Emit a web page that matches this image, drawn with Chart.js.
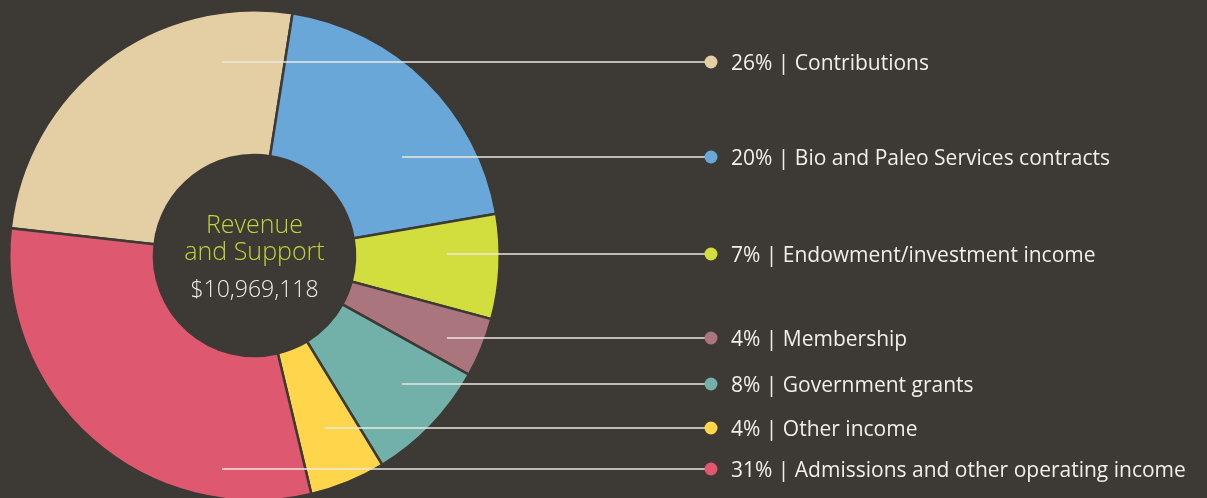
<!DOCTYPE html>
<html>
<head>
<meta charset="utf-8">
<script src="https://cdn.jsdelivr.net/npm/chart.js@4.4.1/dist/chart.umd.min.js"></script>
<style>
  html, body { margin: 0; padding: 0; background: #3d3935; overflow: hidden; width: 1207px; height: 498px; }
  #wrap { position: absolute; left: 0; top: 0; width: 1207px; height: 510px; }
</style>
</head>
<body>
<div id="wrap"><canvas id="c" width="1207" height="510"></canvas></div>
<script>
// ---- data ----
const categories = ["Contributions", "Bio and Paleo Services contracts", "Endowment/investment income", "Membership", "Government grants", "Other income", "Admissions and other operating income"];
const percentLabels = [26, 20, 7, 4, 8, 4, 31];          // printed percentages
const sliceShares = [25.7, 19.8, 6.9, 3.9, 8.2, 5.0, 30.5]; // slice sizes as drawn
const sliceColors = ["#e3cfa3", "#68a7d7", "#d2de3e", "#ab757d", "#72b1a9", "#fed54b", "#de5870"];
const centerTitle = ["Revenue", "and Support"];
const centerTotal = "$10,969,118";

// ---- layout (positions / styles) ----
const BG = "#3d3935";
const leaderY = [62, 157, 254, 338, 384, 428, 469];
const leaderStartX = [222, 402, 447, 447, 402, 325, 222];
const dotX = 711, textX = 731;

const labelPlugin = {
  id: 'labelPlugin',
  afterDraw(chart) {
    const ctx = chart.ctx;
    const meta = chart.getDatasetMeta(0);
    const arc = meta.data[0];
    const cx = arc.x, cy = arc.y;
    ctx.save();
    // center text
    ctx.textAlign = 'center';
    ctx.textBaseline = 'middle';
    ctx.font = '300 25px "Open Sans"';
    ctx.fillStyle = '#c3d33b';
    ctx.fillText(centerTitle[0], cx, cy - 30);
    ctx.fillText(centerTitle[1], cx, cy - 3);
    ctx.font = '300 23px "Open Sans"';
    ctx.fillStyle = '#f0ede8';
    ctx.fillText(centerTotal, cx, cy + 35);
    // leader lines, dots, labels
    ctx.textAlign = 'left';
    ctx.font = '400 21px "Open Sans"';
    categories.forEach((cat, i) => {
      const y = leaderY[i];
      ctx.strokeStyle = '#ebe8e3';
      ctx.lineWidth = 1.5;
      ctx.beginPath();
      ctx.moveTo(leaderStartX[i], y);
      ctx.lineTo(dotX, y);
      ctx.stroke();
      ctx.fillStyle = sliceColors[i];
      ctx.beginPath();
      ctx.arc(dotX, y, 6.5, 0, Math.PI * 2);
      ctx.fill();
      ctx.fillStyle = '#f2efea';
      ctx.fillText(percentLabels[i] + '% | ' + cat, textX, y + 2);
    });
    ctx.restore();
  }
};

new Chart(document.getElementById('c'), {
  type: 'doughnut',
  data: {
    labels: categories,
    datasets: [{
      data: sliceShares,
      backgroundColor: sliceColors,
      borderColor: BG,
      borderWidth: 2.5,
      borderJoinStyle: 'miter',
      hoverOffset: 0
    }]
  },
  options: {
    responsive: false,
    animation: false,
    rotation: 276.4,
    cutout: '41%',
    layout: { padding: { left: 8, top: 9, right: 706, bottom: 8 } },
    plugins: { legend: { display: false }, tooltip: { enabled: false } },
    events: []
  },
  plugins: [labelPlugin]
});
</script>
</body>
</html>
